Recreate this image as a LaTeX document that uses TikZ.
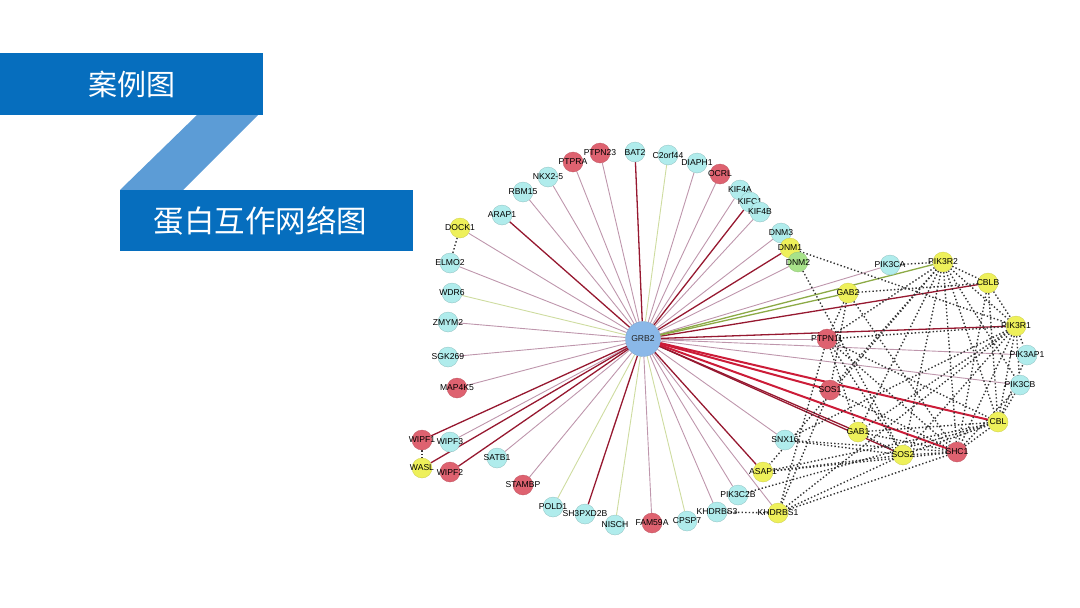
\documentclass[tikz,border=0pt]{standalone}
\usepackage{fontspec}
\setmainfont{Liberation Sans}
\newfontfamily\cjk{Noto Sans CJK SC}
\usetikzlibrary{backgrounds}
\definecolor{titleblue}{RGB}{6,110,190}
\definecolor{linkblue}{RGB}{92,156,214}
\definecolor{ncyan}{RGB}{176,236,236}
\definecolor{nred}{RGB}{222,98,112}
\definecolor{nyellow}{RGB}{238,240,90}
\definecolor{ngreen}{RGB}{168,226,138}
\definecolor{nblue}{RGB}{138,184,232}
\definecolor{emauve}{RGB}{190,150,172}
\definecolor{egreen}{RGB}{206,220,160}
\definecolor{edark}{RGB}{150,24,48}
\definecolor{eolive}{RGB}{140,170,70}
\definecolor{ered}{RGB}{204,28,56}
\pgfdeclarelayer{edges}
\pgfsetlayers{edges,main}
\tikzset{
  prot/.style={circle,minimum size=20pt,inner sep=0pt},
  cy/.style={prot,fill=ncyan,draw=ncyan!80!black,line width=0.3pt},
  rd/.style={prot,fill=nred,draw=nred!85!black,line width=0.3pt},
  ye/.style={prot,fill=nyellow,draw=nyellow!85!black,line width=0.3pt},
  gr/.style={prot,fill=ngreen,draw=ngreen!85!black,line width=0.3pt},
  hub/.style={circle,minimum size=35pt,inner sep=0pt,fill=nblue,draw=nblue!85!black,line width=0.3pt,font=\fontsize{8.6}{9}\selectfont,text=black!85},
  lab/.style={font=\fontsize{8.6}{9}\selectfont,text=black,inner sep=0pt},
  em/.style={draw=emauve,line width=0.9pt},
  eg/.style={draw=egreen,line width=0.9pt},
  ed/.style={draw=edark,line width=1.3pt},
  eo/.style={draw=eolive,line width=1.3pt},
  er/.style={draw=ered,line width=2pt},
  dt/.style={draw=black!80,line width=1.4pt,dash pattern=on 1.4pt off 2.2pt},
  titlebox/.style={fill=titleblue,draw=none},
  titletext/.style={text=white,font=\cjk\fontsize{29}{32}\selectfont}
}
\newcommand\protnode[4]{\node[#1,label={[lab]center:#4}] (#2) at (#3) {};}
\begin{document}
\begin{tikzpicture}[x=1pt,y=-1pt]
\useasboundingbox (0,0) rectangle (1080,608);
% title blocks
\fill[linkblue] (197,115) -- (258,115) -- (183,190) -- (120,190) -- cycle;
\node[titlebox,minimum width=263pt,minimum height=62pt,inner sep=0pt] (t1) at (131.5,84) {};
\node[titletext] (t1txt) at (131.5,84) {案例图};
\node[titlebox,minimum width=293pt,minimum height=61pt,inner sep=0pt] (t2) at (266,220.5) {};
\node[titletext,font=\cjk\fontsize{30.5}{33}\selectfont] (t2txt) at (260.5,220.5) {蛋白互作网络图};
% hub
\node[hub] (GRB2) at (643,339) {GRB2};
% outer ring
\protnode{cy}{BAT2}{635,152}{BAT2}
\protnode{rd}{PTPN23}{600,153}{PTPN23}
\protnode{rd}{PTPRA}{573,162}{PTPRA}
\protnode{cy}{NKX25}{548,177}{NKX2-5}
\protnode{cy}{RBM15}{523,192}{RBM15}
\protnode{cy}{ARAP1}{502,215}{ARAP1}
\protnode{ye}{DOCK1}{460,228}{DOCK1}
\protnode{cy}{ELMO2}{450,263}{ELMO2}
\protnode{cy}{WDR6}{452,293}{WDR6}
\protnode{cy}{ZMYM2}{448,322}{ZMYM2}
\protnode{cy}{SGK269}{448,357}{SGK269}
\protnode{rd}{MAP4K5}{457,388}{MAP4K5}
\protnode{rd}{WIPF1}{422,440}{WIPF1}
\protnode{cy}{WIPF3}{450,442}{WIPF3}
\protnode{ye}{WASL}{422,468}{WASL}
\protnode{rd}{WIPF2}{450,472}{WIPF2}
\protnode{cy}{SATB1}{497,458}{SATB1}
\protnode{rd}{STAMBP}{523,485}{STAMBP}
\protnode{cy}{POLD1}{553,507}{POLD1}
\protnode{cy}{SH3PXD2B}{585,514}{SH3PXD2B}
\protnode{cy}{NISCH}{615,525}{NISCH}
\protnode{rd}{FAM59A}{652,523}{FAM59A}
\protnode{cy}{CPSP7}{687,521}{CPSP7}
\protnode{cy}{KHDRBS3}{717,512}{KHDRBS3}
\protnode{cy}{PIK3C2B}{738,495}{PIK3C2B}
\protnode{ye}{ASAP1}{763,472}{ASAP1}
\protnode{cy}{SNX16}{785,440}{SNX16}
\protnode{ye}{KHDRBS1}{778,513}{KHDRBS1}
\protnode{cy}{C2orf44}{668,155}{C2orf44}
\protnode{cy}{DIAPH1}{697,163}{DIAPH1}
\protnode{rd}{OCRL}{720,174}{OCRL}
\protnode{cy}{KIF4A}{740,190}{KIF4A}
\protnode{cy}{KIFC1}{750,202}{KIFC1}
\protnode{cy}{KIF4B}{760,212}{KIF4B}
\protnode{cy}{DNM3}{781,233}{DNM3}
\protnode{ye}{DNM1}{790,248}{DNM1}
\protnode{gr}{DNM2}{798,262}{DNM2}
% right cluster
\protnode{cy}{PIK3CA}{890,265}{PIK3CA}
\protnode{ye}{PIK3R2}{943,262}{PIK3R2}
\protnode{ye}{CBLB}{988,283}{CBLB}
\protnode{ye}{GAB2}{848,293}{GAB2}
\protnode{ye}{PIK3R1}{1016,326}{PIK3R1}
\protnode{rd}{PTPN11}{827,339}{PTPN11}
\protnode{cy}{PIK3AP1}{1027,355}{PIK3AP1}
\protnode{cy}{PIK3CB}{1020,385}{PIK3CB}
\protnode{rd}{SOS1}{830,390}{SOS1}
\protnode{ye}{CBL}{998,422}{CBL}
\protnode{ye}{GAB1}{858,432}{GAB1}
\protnode{ye}{SOS2}{903,455}{SOS2}
\protnode{rd}{SHC1}{957,452}{SHC1}
\begin{pgfonlayer}{edges}
% edges from the hub
\foreach \n in {PTPRA,PTPN23,NKX25,RBM15,DIAPH1,OCRL,KIF4A,KIF4B,DNM3,DNM2,DOCK1,ELMO2,ZMYM2,SGK269,MAP4K5,WIPF3,SATB1,STAMBP,FAM59A,KHDRBS3,PIK3C2B,SNX16,KHDRBS1,PIK3CA,PTPN11,PIK3AP1,PIK3CB}
  \draw[em] (GRB2) -- (\n);
\foreach \n in {C2orf44,WDR6,POLD1,NISCH,CPSP7}
  \draw[eg] (GRB2) -- (\n);
\foreach \n in {BAT2,ARAP1,KIFC1,DNM1,WIPF1,WIPF2,WASL,SH3PXD2B,ASAP1,GAB1,SOS2,CBLB,PIK3R1}
  \draw[ed] (GRB2) -- (\n);
\foreach \n in {GAB2,PIK3R2}
  \draw[eo] (GRB2) -- (\n);
\foreach \n in {SOS1,CBL,SHC1}
  \draw[er] (GRB2) -- (\n);
% dotted interactions
\foreach \a/\b in {DOCK1/ELMO2,WIPF1/WASL,KHDRBS3/KHDRBS1,PIK3CA/PIK3R2,DNM1/PIK3R1,DNM2/SOS2,
  PIK3R2/CBLB,PIK3R2/PIK3R1,PIK3R2/PTPN11,PIK3R2/GAB1,PIK3R2/SOS2,PIK3R2/SHC1,PIK3R2/CBL,PIK3R2/PIK3CB,PIK3R2/SOS1,PIK3R2/ASAP1,
  CBLB/PIK3R1,CBLB/SHC1,CBLB/GAB2,CBLB/CBL,
  PIK3R1/PTPN11,PIK3R1/GAB1,PIK3R1/SHC1,PIK3R1/CBL,PIK3R1/SNX16,PIK3R1/KHDRBS1,PIK3R1/PIK3AP1,PIK3R1/PIK3CB,PIK3R1/SOS2,
  GAB2/PTPN11,GAB2/SHC1,GAB2/SOS1,
  PTPN11/GAB1,PTPN11/SHC1,PTPN11/CBL,PTPN11/KHDRBS1,PTPN11/SOS2,
  SOS1/SHC1,SOS1/KHDRBS1,
  GAB1/SHC1,GAB1/SOS2,GAB1/CBL,
  SOS2/SHC1,SOS2/CBL,SOS2/ASAP1,SOS2/KHDRBS1,SOS2/SNX16,
  SHC1/CBL,SHC1/ASAP1,SHC1/KHDRBS1,SHC1/SNX16,SHC1/PIK3CB,
  CBL/PIK3CB,CBL/PIK3AP1,CBL/ASAP1,CBL/PIK3C2B}
  \draw[dt] (\a) -- (\b);
\end{pgfonlayer}
\end{tikzpicture}
\end{document}
